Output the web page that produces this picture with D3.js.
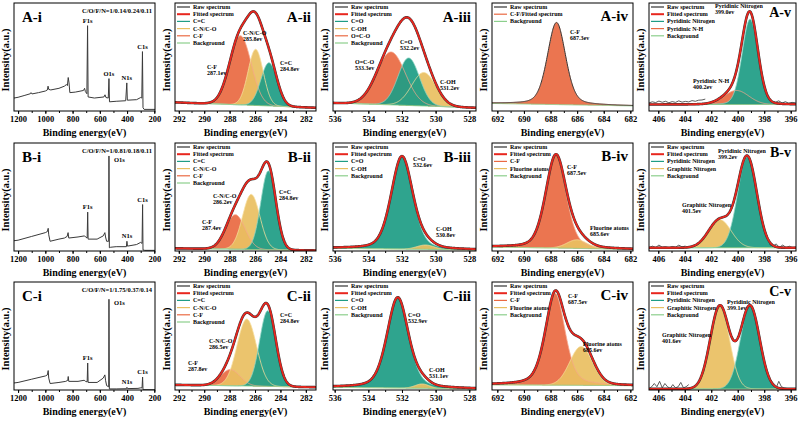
<!DOCTYPE html>
<html>
<head>
<meta charset="utf-8">
<script src="https://cdn.jsdelivr.net/npm/d3@7"></script>
<style>
  body { margin: 0; background: #fff; }
  svg { font-family: "Liberation Serif", "Times New Roman", serif; font-weight: bold; }
</style>
</head>
<body>
<svg id="chart" width="800" height="422"></svg>
<script>
// ---- data ----
var rowNames = ["A", "B", "C"];
var colNames = ["i", "ii", "iii", "iv", "v"];
var compositions = ["C/O/F/N=1/0.14/0.24/0.11", "C/O/F/N=1/0.81/0.18/0.11", "C/O/F/N=1/1.75/0.37/0.14"];

var xDomains = [[1230, 195], [292.3, 281.2], [536.1, 527.6], [692.4, 681.8], [406.7, 395.6]];
var xTicks = [
  [1200, 1000, 800, 600, 400, 200],
  [292, 290, 288, 286, 284, 282],
  [536, 534, 532, 530, 528],
  [692, 690, 688, 686, 684, 682],
  [406, 404, 402, 400, 398, 396]
];
var xMinorStep = [100, 1, 1, 1, 1];

// survey spectra: [binding energy, intensity %]
var surveyA = [[1230,12],[1200,12.7],[1150,14.5],[1110,16],[1105,17],[1098,15.8],[1050,17],[1000,18.5],[985,19.5],[980,23],[975,20],[960,19.5],[900,21],[860,23],[845,24.5],[838,23.5],[832,31],[826,26],[820,17],[780,17.5],[720,19],[712,21],[706,18],[695,16],[690,79],[686,13],[640,12],[570,13],[562,15],[555,12.5],[538,12],[533,30],[529,8.5],[480,9],[410,9.5],[402,26],[398,10],[330,10.5],[300,12.5],[292,12],[287,55],[283,3],[275,1.5],[195,1.5]];
var surveyB = [[1230,9.5],[1200,10],[1100,13.5],[1000,17],[985,18],[979,21],[975,15],[965,9],[900,11],[860,12],[840,13.5],[833,17],[828,12],[760,13],[712,14],[705,13],[693,12],[689,36],[686,11],[620,11],[575,14],[563,17],[558,13],[550,9],[535,9],[533,88],[530,3],[520,3.5],[480,4],[405,4],[401,9],[397,4.5],[330,6],[300,8],[290,7],[286,43],[283,1],[270,0.6],[195,0.6]];
var surveyC = [[1230,6.5],[1200,7],[1100,10],[1000,13],[985,14],[979,18],[975,11],[965,6],[900,7],[850,8],[835,9],[832,12.5],[828,8],[760,8],[715,9],[705,8],[693,7.5],[689,25],[686,7],[620,7],[575,11],[563,14],[558,9],[550,4],[535,3],[533,84],[530,1],[480,1],[405,1.2],[401,2.5],[397,1.3],[320,1.5],[300,2],[290,2],[286,12],[283,0.3],[195,0.2]];

// survey peak names and their binding energy
var surveyPeaks = [["F1s", 689], ["O1s", 533], ["N1s", 401], ["C1s", 286]];

// fitted components: [name, centre eV, height %, FWHM eV, lorentz share, colour]
var peaksAii  = [["C-F", 287.15, 64, 2.0, 0, "orange"], ["C-N/C-O", 285.95, 52, 1.4, 0, "yellow"], ["C=C", 284.9, 40, 1.5, 0, "teal"]];
var peaksAiii = [["O=C-O", 532.65, 49, 2.0, 0, "orange"], ["C-OH", 530.7, 31, 1.7, 0, "yellow"], ["C=O", 531.6, 44, 1.5, 0, "teal"]];
var peaksAiv  = [["C-F", 687.55, 76, 1.6, 0.3, "orange"]];
var peaksAv   = [["Pyridinic N-H", 400.1, 13, 2.2, 0, "orange"], ["Pyridinic Nitrogen", 399.07, 79, 1.4, 0.1, "teal"]];

var peaksBii  = [["C-F", 287.55, 32, 1.8, 0, "orange"], ["C-N/C-O", 286.3, 51, 1.6, 0, "yellow"], ["C=C", 284.95, 73, 1.4, 0, "teal"]];
var peaksBiii = [["C=O", 532.0, 86, 1.5, 0.3, "teal"], ["C-OH", 530.6, 4, 1.2, 0, "yellow"]];
var peaksBiv  = [["C-F", 687.6, 86, 1.8, 0.3, "orange"], ["Fluorine atoms", 686.0, 8, 1.8, 0, "yellow"]];
var peaksBv   = [["Graphitic Nitrogen", 401.35, 26, 2.0, 0, "yellow"], ["Pyridinic Nitrogen", 399.28, 84, 1.7, 0, "teal"]];

var peaksCii  = [["C-F", 287.95, 15, 1.8, 0, "orange"], ["C-N/C-O", 286.65, 62, 1.8, 0, "yellow"], ["C=C", 285.0, 70, 1.5, 0, "teal"]];
var peaksCiii = [["C=O", 532.25, 84, 1.5, 0.35, "teal"], ["C-OH", 530.8, 4, 1.0, 0, "yellow"]];
var peaksCiv  = [["C-F", 687.65, 85, 1.75, 0.4, "orange"], ["Fluorine atoms", 685.7, 36, 2.0, 0, "yellow"]];
var peaksCv   = [["Graphitic Nitrogen", 401.35, 77, 1.7, 0, "yellow"], ["Pyridinic Nitrogen", 399.07, 77, 1.7, 0, "teal"]];

// background level at the left and right end of each window
var bgA = [null, [8, 3], [7.5, 3], [7, 4.7], [6, 6]];
var bgB = [null, [2.5, 0.5], [2.5, 1], [3.7, 1.5], [3, 3]];
var bgC = [null, [4.8, 2.6], [2.5, 1], [4.8, 4], [1, 1]];

// raw-spectrum noise on the N1s tails
var noiseAv = [[[406.7,7.5],[406.45,8.5],[406.2,7.8],[405.95,9.2],[405.7,8.1],[405.45,9],[405.2,7.6],[404.95,8.7],[404.7,8],[404.45,9.4],[404.2,8.2],[403.95,8.9],[403.7,8.4],[403.45,9.6],[403.2,9],[402.95,10],[402.7,10.2],[402.45,11]],
               [[397.4,9],[397.15,8.2],[396.9,9.4],[396.65,7.4],[396.4,8.6],[396.15,7.2],[395.9,8],[395.6,7.4]]];
var noiseBv = [[[406.7,3],[406.45,4.5],[406.2,3.2],[405.95,5.5],[405.7,3.5],[405.45,4],[405.2,3],[404.95,4.2],[404.7,3.6],[404.45,5.4],[404.2,3.8],[403.95,4.6]],
               [[397.6,6],[397.35,4.5],[397.1,6.5],[396.85,3.5],[396.6,5.5],[396.35,3.2],[396.1,4.4],[395.85,3],[395.6,3.6]]];
var noiseCv = [[[406.7,1],[406.5,3],[406.3,6],[406.1,3],[405.9,8],[405.7,2],[405.5,6],[405.3,3],[405.1,1.5],[404.9,5],[404.7,2],[404.5,3],[404.3,7],[404.1,2],[403.9,3],[403.7,5]],
               [[397.3,4],[397.1,2],[396.9,8],[396.7,3],[396.5,2],[396.3,1.5],[396.0,1],[395.6,1]]];

// legends
var legAii  = ["Raw spectrum", "Fitted spectrum", "C=C", "C-N/C-O", "C-F", "Background"];
var legAiii = ["Raw spectrum", "Fitted spectrum", "C=O", "C-OH", "O=C-O", "Background"];
var legAiv  = ["Raw spectrum", "C-F/Fitted spectrum", "Background"];
var legAv   = ["Raw spectrum", "Fitted spectrum", "Pyridinic Nitrogen", "Pyridinic N-H", "Background"];
var legBiii = ["Raw spectrum", "Fitted spectrum", "C=O", "C-OH", "Background"];
var legBiv  = ["Raw spectrum", "Fitted spectrum", "C-F", "Fluorine atoms", "Background"];
var legBv   = ["Raw spectrum", "Fitted spectrum", "Pyridinic Nitrogen", "Graphitic Nitrogen", "Background"];
var legendKind = {
  "Raw spectrum": "raw", "Fitted spectrum": "fit", "C-F/Fitted spectrum": "orange", "Background": "bg",
  "C=C": "teal", "C-N/C-O": "yellow", "C-F": "orange", "C=O": "teal", "C-OH": "yellow", "O=C-O": "orange",
  "Pyridinic Nitrogen": "teal", "Pyridinic N-H": "orange", "Graphitic Nitrogen": "yellow", "Fluorine atoms": "yellow"
};

// peak annotations: [line 1, line 2, dx from box left, dy from box top]
var notesAii  = [["C-N/C-O", "285.8ev", 68, 32], ["C-F", "287.1ev", 32, 66], ["C=C", "284.8ev", 105, 62]];
var notesAiii = [["C=O", "532.2ev", 67, 41], ["O=C-O", "533.3ev", 22, 61], ["C-OH", "531.2ev", 107, 81]];
var notesAiv  = [["C-F", "687.3ev", 78, 31]];
var notesAv   = [["Pyridinic Nitrogen", "399.0ev", 66, 5], ["Pyridinic N-H", "400.2ev", 44, 80]];
var notesBii  = [["C-N/C-O", "286.2ev", 38, 55], ["C=C", "284.8ev", 104, 51], ["C-F", "287.4ev", 27, 81]];
var notesBiii = [["C=O", "532.6ev", 80, 18], ["C-OH", "530.8ev", 103, 88]];
var notesBiv  = [["C-F", "687.5ev", 75, 26], ["Fluorine atoms", "685.6ev", 98, 87]];
var notesBv   = [["Pyridinic Nitrogen", "399.2ev", 69, 10], ["Graphitic Nitrogen", "401.5ev", 33, 64]];
var notesCii  = [["C=C", "284.8ev", 105, 35], ["C-N/C-O", "286.5ev", 34, 61], ["C-F", "287.8ev", 13, 83]];
var notesCiii = [["C=O", "532.9ev", 75, 35], ["C-OH", "531.1ev", 96, 90]];
var notesCiv  = [["C-F", "687.5ev", 76, 16], ["Fluorine atoms", "685.6ev", 91, 64]];
var notesCv   = [["Pyridinic Nitrogen", "399.1ev", 78, 22], ["Graphitic Nitrogen", "401.6ev", 13, 55]];

var surveys = [surveyA, surveyB, surveyC];
var peaks = [[null, peaksAii, peaksAiii, peaksAiv, peaksAv], [null, peaksBii, peaksBiii, peaksBiv, peaksBv], [null, peaksCii, peaksCiii, peaksCiv, peaksCv]];
var bgs = [bgA, bgB, bgC];
var noises = [noiseAv, noiseBv, noiseCv];
var legends = [[null, legAii, legAiii, legAiv, legAv], [null, legAii, legBiii, legBiv, legBv], [null, legAii, legBiii, legBiv, legBv]];
var notes = [[null, notesAii, notesAiii, notesAiv, notesAv], [null, notesBii, notesBiii, notesBiv, notesBv], [null, notesCii, notesCiii, notesCiv, notesCv]];

// ---- layout ----
var colLeft = [14, 175, 333, 492, 649],
    colRight = [155, 316, 476, 633, 796],
    rowTop = [3, 143, 282],
    rowBottom = [111, 251, 390];
var labelDy = [19, 19, 19, 18, 14];

var fills = { teal: "#1f9d85", yellow: "#e9c062", orange: "#ea6a43" };
var edges = { teal: "#8fd6c4", yellow: "#f6dd9c", orange: "#f6a68c" };
var colRed = "#e8261e", colRaw = "#333", colBg = "#8ccf8c";

var svg = d3.select("#chart");

function peakValue(p, x) {
  var t = (x - p[1]) / p[3], eta = p[4];
  return p[2] * ((1 - eta) * Math.exp(-4 * Math.LN2 * t * t) + eta / (1 + 4 * t * t));
}

rowNames.forEach(function(rn, r) {
  colNames.forEach(function(cn, c) {
    var x0 = colLeft[c], x1 = colRight[c], y0 = rowTop[r], y1 = rowBottom[r];
    var w = x1 - x0, h = y1 - y0;
    var g = svg.append("g").attr("transform", "translate(" + x0 + "," + y0 + ")");

    var x = d3.scaleLinear().domain(xDomains[c]).range([0, w]);
    var y = d3.scaleLinear().domain([0, 100]).range([h, 0]);

    var clipId = "clip" + r + c;
    g.append("clipPath").attr("id", clipId).append("rect").attr("width", w).attr("height", h);
    var plot = g.append("g").attr("clip-path", "url(#" + clipId + ")");

    var line = d3.line().x(function(d) { return x(d[0]); }).y(function(d) { return y(d[1]); });

    if (c === 0) {
      // survey spectrum
      var sv = surveys[r];
      plot.append("path").datum(sv).attr("d", line)
        .attr("fill", "none").attr("stroke", "#3a3a3a").attr("stroke-width", 1);

      surveyPeaks.forEach(function(sp) {
        var near = sv.filter(function(d) { return Math.abs(d[0] - sp[1]) <= 4; });
        var pt = near.reduce(function(a, b) { return b[1] > a[1] ? b : a; });
        var side = (sp[0] === "O1s" && r > 0);
        g.append("text")
          .attr("x", x(pt[0]) + (side ? 5 : 0))
          .attr("y", y(pt[1]) + (side ? 6 : -3))
          .attr("text-anchor", side ? "start" : "middle")
          .style("font-size", "6.5px")
          .text(sp[0]);
      });

      g.append("text").attr("x", w - 3).attr("y", 10)
        .attr("text-anchor", "end").style("font-size", "6.5px")
        .text(compositions[r]);
      g.append("text").attr("x", 8).attr("y", 19)
        .style("font-size", "15px").text(rn + "-" + cn);
    } else {
      var pk = peaks[r][c], bg = bgs[r][c];
      var dom = xDomains[c];
      var xs = d3.range(0, 401).map(function(i) { return dom[0] + (dom[1] - dom[0]) * i / 400; });
      var bgAt = function(v) { return bg[0] + (bg[1] - bg[0]) * (v - dom[0]) / (dom[1] - dom[0]); };

      // component fills
      pk.forEach(function(p) {
        var area = d3.area()
          .x(function(v) { return x(v); })
          .y0(function(v) { return y(bgAt(v)); })
          .y1(function(v) { return y(bgAt(v) + peakValue(p, v)); });
        plot.append("path").datum(xs).attr("d", area)
          .attr("fill", fills[p[5]]).attr("fill-opacity", 0.93);
      });
      pk.forEach(function(p) {
        plot.append("path").datum(xs.map(function(v) { return [v, bgAt(v) + peakValue(p, v)]; }))
          .attr("d", line).attr("fill", "none")
          .attr("stroke", edges[p[5]]).attr("stroke-width", 0.8);
      });

      // background
      plot.append("path").datum(xs.map(function(v) { return [v, bgAt(v)]; }))
        .attr("d", line).attr("fill", "none").attr("stroke", colBg).attr("stroke-width", 1);

      var fit = xs.map(function(v) {
        return [v, bgAt(v) + d3.sum(pk, function(p) { return peakValue(p, v); })];
      });
      // raw spectrum
      plot.append("path").datum(fit).attr("d", line).attr("fill", "none")
        .attr("stroke", colRaw).attr("stroke-width", c === 3 && r === 0 ? 1 : 2.6);
      if (c === 4) {
        noises[r].forEach(function(seg) {
          plot.append("path").datum(seg).attr("d", line).attr("fill", "none")
            .attr("stroke", colRaw).attr("stroke-width", 0.8);
        });
      }
      // fitted spectrum
      if (!(c === 3 && r === 0)) {
        plot.append("path").datum(fit).attr("d", line).attr("fill", "none")
          .attr("stroke", colRed).attr("stroke-width", 1.8);
      }

      // annotations
      notes[r][c].forEach(function(n) {
        var t = g.append("text").attr("x", n[2]).attr("y", n[3]).style("font-size", "6px");
        t.append("tspan").attr("x", n[2]).text(n[0]);
        t.append("tspan").attr("x", n[2]).attr("dy", 6).text(n[1]);
      });

      // legend
      legends[r][c].forEach(function(name, i) {
        var ly = 6 + i * 7.2;
        var kind = legendKind[name];
        var col = kind === "raw" ? colRaw : kind === "fit" ? colRed : kind === "bg" ? colBg : fills[kind];
        g.append("line").attr("x1", 2).attr("x2", 15).attr("y1", ly - 2).attr("y2", ly - 2)
          .attr("stroke", col).attr("stroke-width", kind === "fit" ? 2 : 1.2);
        g.append("text").attr("x", 18).attr("y", ly).style("font-size", "6px").text(name);
      });

      g.append("text").attr("x", w - 5).attr("y", labelDy[c]).attr("text-anchor", "end")
        .style("font-size", c === 4 ? "14px" : "15px").text(rn + "-" + cn);
    }

    // axes
    var minor = d3.range(Math.ceil(Math.min(xDomains[c][0], xDomains[c][1]) / xMinorStep[c]) * xMinorStep[c],
                         Math.max(xDomains[c][0], xDomains[c][1]), xMinorStep[c]);
    g.append("g").attr("transform", "translate(0," + h + ")")
      .call(d3.axisBottom(x).tickValues(minor).tickSize(2).tickFormat(""))
      .call(function(s) { s.select(".domain").remove(); });
    var ax = g.append("g").attr("transform", "translate(0," + h + ")")
      .call(d3.axisBottom(x).tickValues(xTicks[c]).tickSize(3).tickPadding(2).tickFormat(d3.format("d")));
    ax.select(".domain").remove();
    ax.selectAll("text").style("font-size", "8.5px").style("font-family", "Liberation Serif").style("font-weight", "bold").attr("fill", "#000");

    g.append("rect").attr("width", w).attr("height", h)
      .attr("fill", "none").attr("stroke", "#000").attr("stroke-width", 1);

    g.append("text").attr("x", w / 2).attr("y", h + 25).attr("text-anchor", "middle")
      .style("font-size", "10px").text("Binding energy(eV)");
    g.append("text").attr("transform", "translate(-5," + (h / 2 + 3) + ") rotate(-90)")
      .attr("text-anchor", "middle").style("font-size", "10.5px").text("Intensity(a.u.)");
  });
});
</script>
</body>
</html>
